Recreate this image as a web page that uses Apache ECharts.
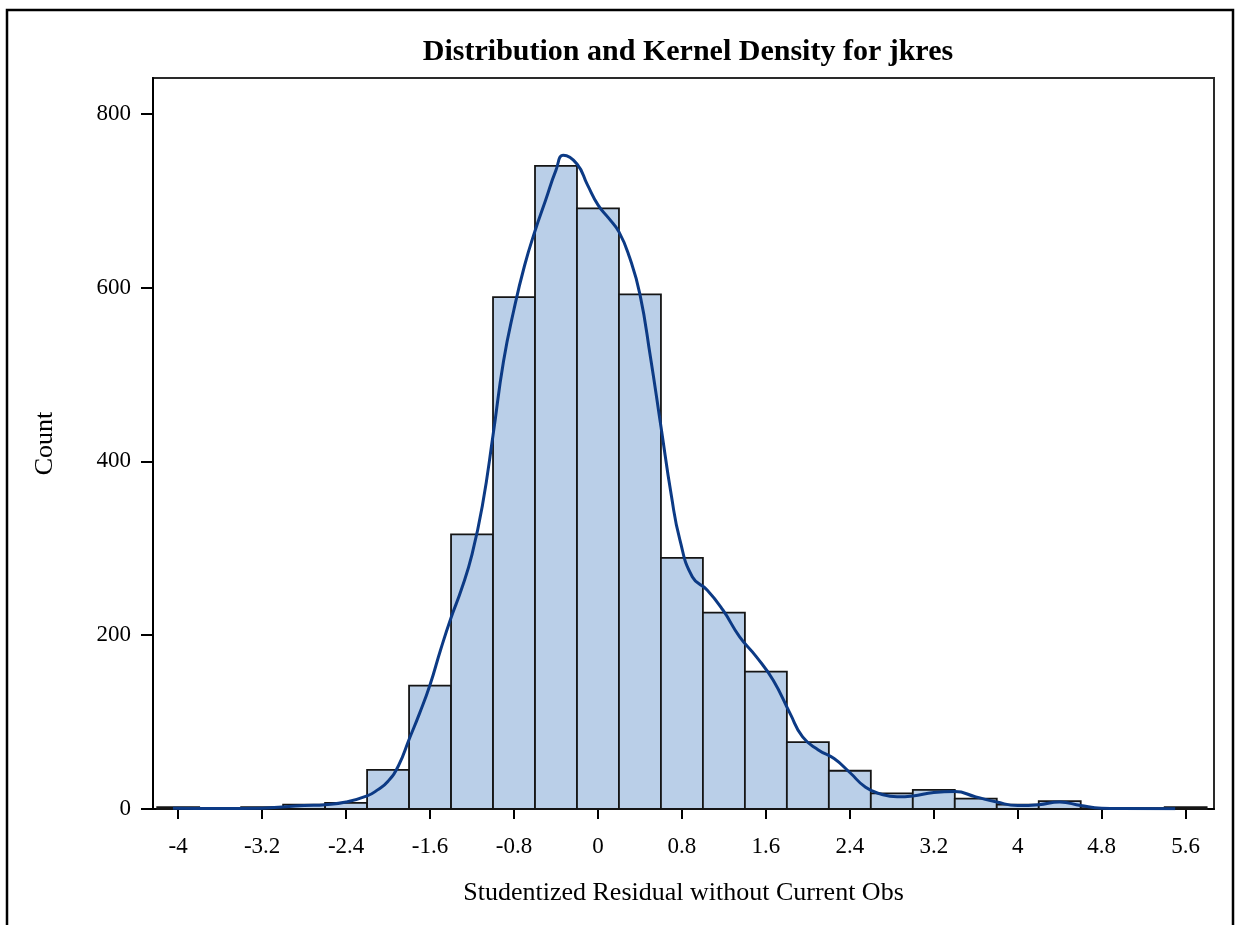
<!DOCTYPE html>
<html>
<head>
<meta charset="utf-8">
<script src="https://cdn.jsdelivr.net/npm/echarts@6/dist/echarts.min.js"></script>
<style>
html,body{margin:0;padding:0;background:#fff;}
#c{width:1236px;height:925px;}
</style>
</head>
<body>
<div id="c"></div>
<script>
// Histogram bins (centers) and counts
const binCenters = [-4.0,-3.6,-3.2,-2.8,-2.4,-2.0,-1.6,-1.2,-0.8,-0.4,0.0,0.4,0.8,1.2,1.6,2.0,2.4,2.8,3.2,3.6,4.0,4.4,4.8,5.2,5.6];
const binCounts  = [2,1,2,5,7,45,142,316,589,740,691,592,289,226,158,77,44,18,22,12,5,9,1,1,2];
const binWidth = 0.4;

// Kernel density curve (scaled to counts)
const kdeX = [-4.05,-3.6,-3.2,-2.8,-2.6,-2.4,-2.2,-2.1,-2.0,-1.9,-1.8,-1.7,-1.6,-1.5,-1.4,-1.3,-1.2,-1.1,-1.0,-0.9,-0.8,-0.7,-0.6,-0.5,-0.4,-0.33,-0.2,-0.1,0.0,0.1,0.2,0.3,0.4,0.5,0.6,0.7,0.78,0.9,1.04,1.19,1.35,1.51,1.67,1.83,1.95,2.1,2.25,2.4,2.55,2.7,2.85,3.0,3.2,3.4,3.6,3.8,4.0,4.2,4.4,4.6,4.8,5.0,5.5];
const kdeY = [1,0.5,1,4,5,8,15,22,32,50,80,110,143,183,220,253,293,350,430,515,575,625,665,700,735,752,742,718,695,680,664,635,592,520,440,360,310,267,252,229,198,175,148,110,83,68,58,42,25,17,14,15,19,20,14,8,4,5,8,4,1,0.5,0.3];

// Tick labels
const xTicks = [-4,-3.2,-2.4,-1.6,-0.8,0,0.8,1.6,2.4,3.2,4,4.8,5.6];
const yTicks = [0,200,400,600,800];

const titleText = 'Distribution and Kernel Density for jkres';
const xName = 'Studentized Residual without Current Obs';
const yName = 'Count';

const serif = '"Liberation Serif","Times New Roman",serif';
const chart = echarts.init(document.getElementById('c'), null, {renderer:'canvas'});

const barData = binCenters.map((c,i)=>[c, binCounts[i]]);
const kdeData = kdeX.map((x,i)=>[x, kdeY[i]]);

chart.setOption({
  animation:false,
  backgroundColor:'#fff',
  graphic:[{
    type:'rect', silent:true, z:100,
    shape:{x:7, y:10, width:1226, height:1000},
    style:{fill:'none', stroke:'#000', lineWidth:2.5}
  }],
  title:{
    text:titleText, left:683, textAlign:'center', top:32,
    textStyle:{fontFamily:serif, fontWeight:'bold', fontSize:30, color:'#000'}
  },
  grid:{left:153, right:22, top:78, bottom:116, show:true, borderColor:'#2a2a2a', borderWidth:2, backgroundColor:'#fff'},
  xAxis:{
    type:'value', min:-4.24, max:5.87,
    name:xName, nameLocation:'middle', nameGap:71,
    nameTextStyle:{fontFamily:serif, fontSize:26, color:'#000'},
    axisLine:{show:true, onZero:false, lineStyle:{color:'#000', width:2}},
    axisTick:{show:true, length:10, lineStyle:{color:'#000', width:2}, customValues:xTicks},
    axisLabel:{fontFamily:serif, fontSize:23, color:'#000', margin:26, customValues:xTicks,
      formatter:v=>String(Math.round(v*10)/10)},
    splitLine:{show:false}
  },
  yAxis:{
    type:'value', min:0, max:841,
    name:yName, nameLocation:'middle', nameGap:95,
    nameTextStyle:{fontFamily:serif, fontSize:26, color:'#000'},
    axisLine:{show:true, onZero:false, lineStyle:{color:'#000', width:2}},
    axisTick:{show:true, length:12, lineStyle:{color:'#000', width:2}, customValues:yTicks},
    axisLabel:{fontFamily:serif, fontSize:23, color:'#000', margin:22, customValues:yTicks},
    splitLine:{show:false}
  },
  series:[
    {
      type:'custom', z:2, data:barData,
      renderItem:function(params, api){
        const c = api.value(0), v = api.value(1);
        const p0 = api.coord([c - binWidth/2, v]);
        const p1 = api.coord([c + binWidth/2, 0]);
        return {
          type:'rect',
          shape:{x:p0[0], y:p0[1], width:p1[0]-p0[0], height:p1[1]-p0[1]},
          style:{fill:'#BACFE8', stroke:'#151515', lineWidth:1.8}
        };
      }
    },
    {
      type:'line', z:3, data:kdeData, smooth:0.5, showSymbol:false, symbol:'none',
      lineStyle:{color:'#0C3A85', width:3}
    }
  ]
});
</script>
</body>
</html>
